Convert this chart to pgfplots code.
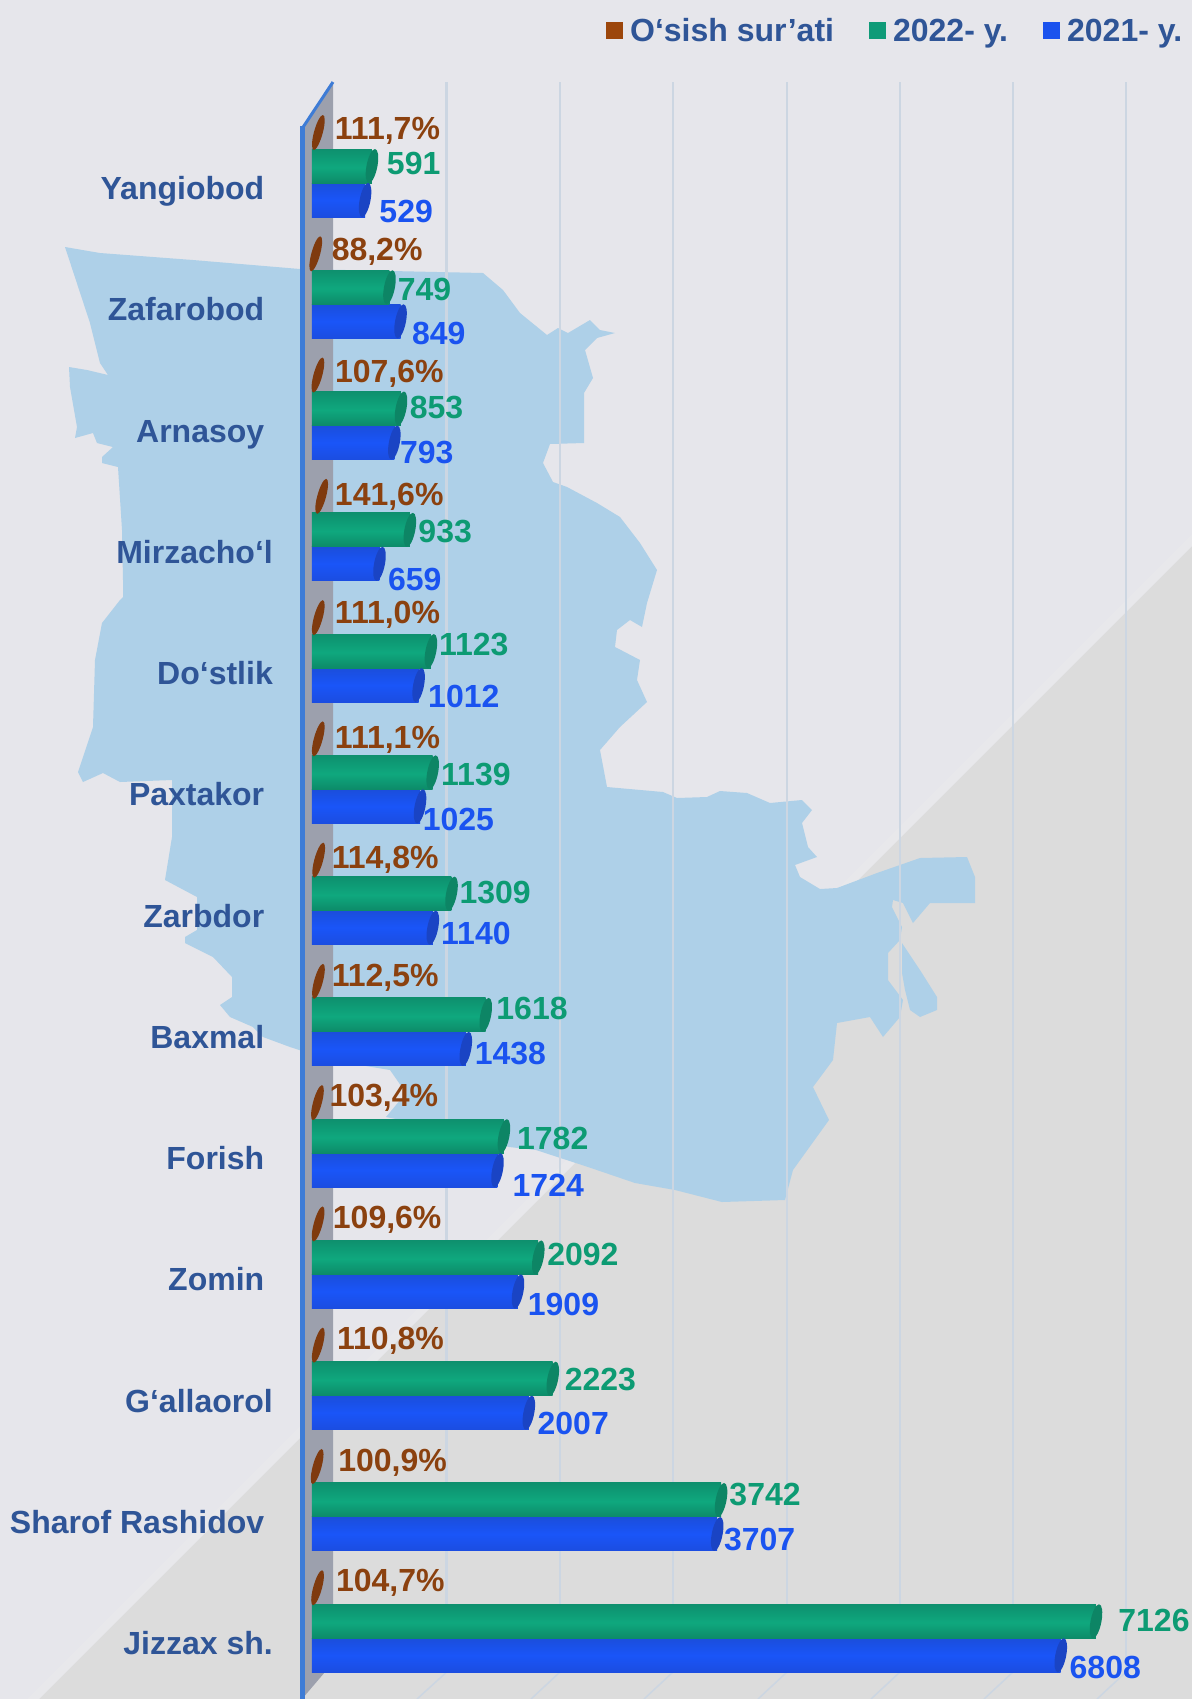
\documentclass[border=0pt]{standalone}
\usepackage{fontspec}
\setmainfont{Liberation Sans}
\usepackage{pgfplots}
\usepackage{pgfplotstable}
\pgfplotsset{compat=1.18}

\definecolor{bgC}{HTML}{E6E6EB}
\definecolor{floorC}{HTML}{DCDCDC}
\definecolor{bandC}{HTML}{E8E8EB}
\definecolor{mapC}{HTML}{AED0E8}
\definecolor{gridC}{HTML}{CCD6E2}
\definecolor{wallC}{HTML}{9CA0AD}
\definecolor{edgeC}{HTML}{3E7CD6}
\definecolor{textC}{HTML}{2F5597}
\definecolor{greenT}{HTML}{0D9B73}
\definecolor{blueT}{HTML}{1A53F0}
\definecolor{brownT}{HTML}{8B410F}
\definecolor{brownL}{HTML}{9C460B}
\definecolor{greenL}{HTML}{0F9B78}
\definecolor{blueL}{HTML}{1A52EE}
\definecolor{gA}{HTML}{0A5643}
\definecolor{gB}{HTML}{0D8768}
\definecolor{gC}{HTML}{0FA87E}
\definecolor{gD}{HTML}{0C7F60}
\definecolor{gCap}{HTML}{0D8565}
\definecolor{bA}{HTML}{12308F}
\definecolor{bB}{HTML}{1B4BD0}
\definecolor{bC}{HTML}{1A55F8}
\definecolor{bD}{HTML}{1C4AD8}
\definecolor{bCap}{HTML}{1A44C4}
\definecolor{brownM}{HTML}{7F3A0E}

\pgfdeclareverticalshading{cylg}{100bp}{color(0bp)=(gA); color(16bp)=(gD); color(48bp)=(gC); color(85bp)=(gB); color(100bp)=(gA)}
\pgfdeclareverticalshading{cylb}{100bp}{color(0bp)=(bA); color(16bp)=(bD); color(50bp)=(bC); color(85bp)=(bB); color(100bp)=(bB)}

% tilted end caps of the 3d bars
\pgfdeclareplotmark{cyl}{\pgfpathellipse{\pgfqpoint{-5.5pt}{0pt}}{\pgfqpoint{5.5pt}{0pt}}{\pgfqpoint{3pt}{17pt}}\pgfusepathqfill}
\pgfdeclareplotmark{disc}{\pgfpathellipse{\pgfqpoint{-6pt}{0pt}}{\pgfqpoint{4.5pt}{0pt}}{\pgfqpoint{4.5pt}{17.5pt}}\pgfusepathqfill}

\newcommand{\chartfont}{\fontsize{32}{36}\bfseries\selectfont}

% i value dx dy: dx,dy place the label (px, dy downwards)
\pgfplotstableread{
i v dx dy
0 111.7 10.4 -4.6
1 88.2 9.8 -4.6
2 107.6 10.9 -4.4
3 141.6 7.1 -2.2
4 111.0 10.5 -5.4
5 111.1 10.5 -2
6 114.8 6.9 -3
7 112.5 7.1 -6.2
8 103.4 5.9 -7.2
9 109.6 8.6 -7
10 110.8 12.7 -7
11 100.9 14.9 -6.9
12 104.7 12.3 -7.8
}\growth
\pgfplotstableread{
i v dx dy
0 591 9.3 -3.5
1 749 2.7 2
2 853 3.1 -1.1
3 933 2.9 1.2
4 1123 2.5 -7.4
5 1139 2.8 1.3
6 1309 2.4 -1.8
7 1618 5 -7.2
8 1782 7.5 1.6
9 2092 3.4 -3.7
10 2223 6.3 0.7
11 3742 2.7 -5.7
12 7126 16.7 -1.2
}\yeartwo
\pgfplotstableread{
i v dx dy
0 529 8.7 11.3
1 849 5.8 11.4
2 793 0 9.4
3 659 2.9 14.8
4 1012 3.9 10.6
5 1025 -3 12.8
6 1140 2.7 5.4
7 1438 3.3 4.4
8 1724 9.5 15.3
9 1909 4.2 12.2
10 2007 3.1 10.1
11 3707 1.1 4.8
12 6808 3.2 11.4
}\yearone

\pgfplotsset{
  canvas/.style={scale only axis, width=1192pt, height=1699pt, at={(0,0)}, anchor=south west, y dir=reverse},
  vallabel/.style={
    only marks,
    point meta=x,
    visualization depends on=\thisrow{dx} \as \dx,
    visualization depends on=\thisrow{dy} \as \dy,
    every node near coord/.append style={anchor=west, inner sep=0pt, text height=23pt, text depth=0pt,
      xshift=\dx pt, yshift=-\dy pt, font=\chartfont, text=#1},
  },
}

\begin{document}
\begin{tikzpicture}
% backdrop in picture pixels: floor, map, walls
\begin{axis}[canvas, xmin=0, xmax=1192, ymin=0, ymax=1699, hide axis, axis background/.style={fill=bgC}]
\addplot[fill=bgC, draw=none, mark=none, forget plot] coordinates {(0,0) (1192,0) (1192,1699) (0,1699)} -- cycle;
\addplot[fill=floorC, draw=none, mark=none, forget plot] coordinates {(1192,538) (1192,1699) (31,1699)} -- cycle;
\addplot[fill=bandC, draw=none, mark=none, forget plot] coordinates {(1192,534) (1192,546) (39,1699) (27,1699)} -- cycle;
\addplot[fill=mapC, draw=none, mark=none, forget plot] coordinates {
(65,247) (100,253) (193,260) (300,269) (483,273) (503,290) (520,313) (547,335) (558,328) (568,333)
(590,320) (600,330) (615,333) (597,338) (585,350) (593,378) (584,393) (584,443) (550,444) (543,463)
(553,482) (567,487) (597,503) (620,517) (640,543) (657,570) (647,603) (642,627) (630,620) (617,630)
(615,647) (617,648) (640,660) (637,680) (647,702) (620,727) (600,750) (607,787) (663,792) (677,798)
(707,797) (720,791) (747,793) (770,803) (802,800) (812,810) (802,823) (808,847) (817,857) (795,865)
(800,877) (820,889) (837,888) (877,873) (920,858) (967,857) (975,877) (975,903) (930,903) (913,923)
(903,903) (893,900) (892,907) (902,927) (900,940) (888,953) (888,980) (903,1000) (900,1017) (883,1037)
(870,1017) (837,1023) (833,1060) (813,1087) (829,1120) (793,1170) (785,1200) (722,1202) (675,1190)
(635,1183) (588,1167) (536,1150) (509,1147) (450,1130) (386,1117) (406,1093) (390,1070) (330,1060)
(290,1047) (263,1037) (253,1027) (230,1017) (220,1005) (232,997) (232,977) (213,957) (185,943) (185,937)
(197,930) (197,897) (165,880) (172,837) (172,780) (120,782) (103,773) (83,782) (78,772) (93,727)
(95,660) (102,623) (120,600) (123,597) (123,580) (122,530) (118,467) (102,463) (102,457) (113,447)
(97,443) (93,433) (75,438) (77,427) (70,387) (69,367) (87,370) (108,375) (100,363) (90,323)
} -- cycle;
\addplot[fill=mapC, draw=none, mark=none, forget plot] coordinates {
(902,943) (920,970) (937,997) (937,1010) (920,1017) (910,1010) (905,990) (902,973)
} -- cycle;
% grid lines
\addplot[gridC, line width=2.5pt, mark=none, forget plot] coordinates {(446.7,82) (446.7,1672)};
\addplot[gridC, line width=2.5pt, mark=none, forget plot] coordinates {(560,82) (560,1672)};
\addplot[gridC, line width=2.5pt, mark=none, forget plot] coordinates {(673,82) (673,1672)};
\addplot[gridC, line width=2.5pt, mark=none, forget plot] coordinates {(787,82) (787,1672)};
\addplot[gridC, line width=2.5pt, mark=none, forget plot] coordinates {(900,82) (900,1672)};
\addplot[gridC, line width=2.5pt, mark=none, forget plot] coordinates {(1013,82) (1013,1672)};
\addplot[gridC, line width=2.5pt, mark=none, forget plot] coordinates {(1126,82) (1126,1672)};
\addplot[gridC, line width=1.5pt, mark=none, forget plot] coordinates {(446.7,1672) (417,1699)};
\addplot[gridC, line width=1.5pt, mark=none, forget plot] coordinates {(560,1672) (531,1699)};
\addplot[gridC, line width=1.5pt, mark=none, forget plot] coordinates {(673,1672) (644,1699)};
\addplot[gridC, line width=1.5pt, mark=none, forget plot] coordinates {(787,1672) (758,1699)};
\addplot[gridC, line width=1.5pt, mark=none, forget plot] coordinates {(900,1672) (871,1699)};
\addplot[gridC, line width=1.5pt, mark=none, forget plot] coordinates {(1013,1672) (984,1699)};
\addplot[gridC, line width=1.5pt, mark=none, forget plot] coordinates {(1126,1672) (1097,1699)};
% side wall
\addplot[fill=wallC, draw=none, mark=none, forget plot] coordinates {(333,82) (302,128) (302,1699) (325,1672) (333,1672)} -- cycle;
\addplot[edgeC, line width=3pt, mark=none, forget plot] coordinates {(333,82) (302.5,128)};
\addplot[edgeC, line width=5pt, mark=none, forget plot] coordinates {(302.5,126) (302.5,1699)};
\end{axis}
% data axis: 1 unit = 0.1108 px, zero at px 312; one category = 121.27 px
\begin{axis}[canvas, xmin=-2815.9, xmax=7942.3, ymin=-1.50903, ymax=12.501,
  axis line style={draw=none}, tick style={draw=none}, major tick length=0pt,
  xtick=\empty, ytick={0,...,12},
  yticklabels={Yangiobod, Zafarobod, Arnasoy, Mirzacho‘l\kern-8.6pt, Do‘stlik\kern-8.6pt, Paxtakor, Zarbdor, Baxmal, Forish, Zomin, G‘allaorol\kern-8.6pt, Sharof Rashidov, Jizzax sh.\kern-8.6pt},
  yticklabel style={anchor=east, inner sep=0pt, xshift=264.4pt, yshift=-5pt, text height=23pt, text depth=0pt, font=\chartfont, text=textC},
  /pgf/number format/.cd, fixed, precision=0, 1000 sep={}, assume math mode=true, /pgfplots/.cd,
  legend image code/.code={\fill[#1, draw=none] (0pt,-8pt) rectangle (17pt,9pt);},
  legend columns=-1,
  legend style={at={(606/1192, 1-31/1699)}, anchor=west, draw=none, fill=none, inner sep=0pt, font=\chartfont, text=textC,
    /tikz/every even column/.style={column sep=33pt}, /tikz/every odd column/.style={column sep=5pt}},
]
\addlegendimage{fill=brownL}
\addlegendentry{O‘sish sur’ati}
\addlegendimage{fill=greenL}
\addlegendentry{2022- y.}
\addlegendimage{fill=blueL}
\addlegendentry{2021- y.}
% 2021, one plot per bar so that each bar gets the whole shading
\pgfplotsinvokeforeach{0,...,12}{
  \addplot[xbar, bar width=34pt, draw=none, shade, shading=cylb, forget plot]
    table[x expr={ifthenelse(\thisrow{i}==#1,\thisrow{v}-50,nan)}, y expr=\thisrow{i}+0.1402] {\yearone};
}
\addplot[vallabel=blueT, mark=cyl, mark options={fill=bCap, draw=none}, nodes near coords, forget plot] table[x=v, y expr=\thisrow{i}+0.1402] {\yearone};
% 2022
\pgfplotsinvokeforeach{0,...,12}{
  \addplot[xbar, bar width=34pt, draw=none, shade, shading=cylg, forget plot]
    table[x expr={ifthenelse(\thisrow{i}==#1,\thisrow{v}-50,nan)}, y expr=\thisrow{i}-0.1402] {\yeartwo};
}
\addplot[vallabel=greenT, mark=cyl, mark options={fill=gCap, draw=none}, nodes near coords, forget plot] table[x=v, y expr=\thisrow{i}-0.1402] {\yeartwo};
% growth rate
\addplot[vallabel=brownT, mark=disc, mark options={fill=brownM, draw=none},
  nodes near coords={\pgfmathprintnumber[fixed, fixed zerofill, precision=1, use comma, assume math mode=true]{\pgfplotspointmeta}\%}, forget plot]
  table[x=v, y expr=\thisrow{i}-0.4164] {\growth};
\end{axis}
\end{tikzpicture}
\end{document}
